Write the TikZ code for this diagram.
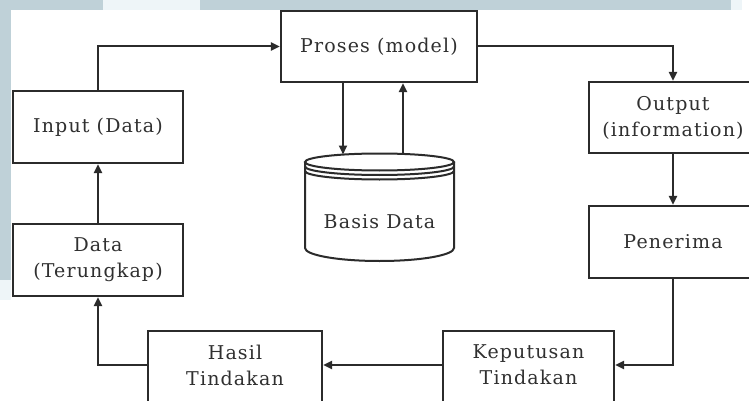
\documentclass[tikz,border=0pt]{standalone}
\usepackage{fontspec}
\setmainfont[LetterSpace=6]{DejaVu Serif}
\usetikzlibrary{arrows.meta}
\definecolor{bgblue}{HTML}{BFD1D8}
\definecolor{bglight}{HTML}{EEF5F8}
\definecolor{linec}{HTML}{2B2B2B}
\definecolor{textc}{HTML}{303030}
\begin{document}
\begin{tikzpicture}[x=1pt,y=-1pt,
  box/.style={draw=linec, line width=2.2pt, fill=white, rectangle, inner sep=0pt,
    font=\fontsize{19}{26}\selectfont, text=textc, align=center},
  lbl/.style={font=\fontsize{19}{26}\selectfont, text=textc, align=center, inner sep=0pt},
  conn/.style={draw=linec, line width=2pt, -{Triangle[length=9pt,width=8pt]}},
  cyl/.style={draw=linec, line width=2pt}]
\useasboundingbox (0,0) rectangle (749,401);
\clip (0,0) rectangle (749,401);
% background
\fill[white] (0,0) rectangle (749,401);
\fill[bgblue] (0,0) rectangle (732,10);
\fill[bglight] (103,0) rectangle (200,10);
\fill[bglight] (731,0) rectangle (742,10);
\fill[bgblue] (0,0) rectangle (11,280);
\fill[bglight] (0,280) rectangle (11,300);

% boxes
\node[box, minimum width=196pt, minimum height=71pt] (proses) at (379,46.5) {Proses (model)};
\node[box, minimum width=170pt, minimum height=72pt] (input) at (98,127) {Input (Data)};
\node[box, minimum width=170pt, minimum height=72pt] (data) at (98,260) {Data\\(Terungkap)};
\node[box, minimum width=168pt, minimum height=71pt] (output) at (673,117.5) {Output\\(information)};
\node[box, minimum width=168pt, minimum height=72pt] (penerima) at (673,242) {Penerima};
\node[box, minimum width=174pt, minimum height=90pt] (hasil) at (235,376) {};
\node[lbl] (hasilt) at (235,365) {Hasil\\Tindakan};
\node[box, minimum width=171pt, minimum height=90pt] (kep) at (528.5,376) {};
\node[lbl] (kept) at (528.5,365) {Keputusan\\Tindakan};

% database cylinder
\filldraw[cyl, fill=white] (305,162) -- (305,248)
  arc[start angle=180, end angle=360, x radius=74.5pt, y radius=13pt] -- (454,162);
\draw[cyl, fill=white] (379.5,162) ellipse[x radius=74.5pt, y radius=8.5pt];
\draw[cyl] (305,166.5) arc[start angle=180, end angle=360, x radius=74.5pt, y radius=8.5pt];
\draw[cyl] (305,171) arc[start angle=180, end angle=360, x radius=74.5pt, y radius=8.5pt];
\node[lbl] (db) at (379.5,222) {Basis Data};
\coordinate (dbin) at (343,154.5);
\coordinate (dbout) at (403,154);

% connectors
\draw[conn] (input.north) |- (proses.west);
\draw[conn] (proses.east) -| (output.north);
\draw[conn] (output.south) -- (penerima.north);
\draw[conn] (penerima.south) |- (kept -| kep.east);
\draw[conn] (kept -| kep.west) -- (hasilt -| hasil.east);
\draw[conn] (hasilt -| hasil.west) -| (data.south);
\draw[conn] (data.north) -- (input.south);
\draw[conn] (proses.south -| dbin) -- (dbin);
\draw[conn] (dbout) -- (proses.south -| dbout);
\end{tikzpicture}
\end{document}
